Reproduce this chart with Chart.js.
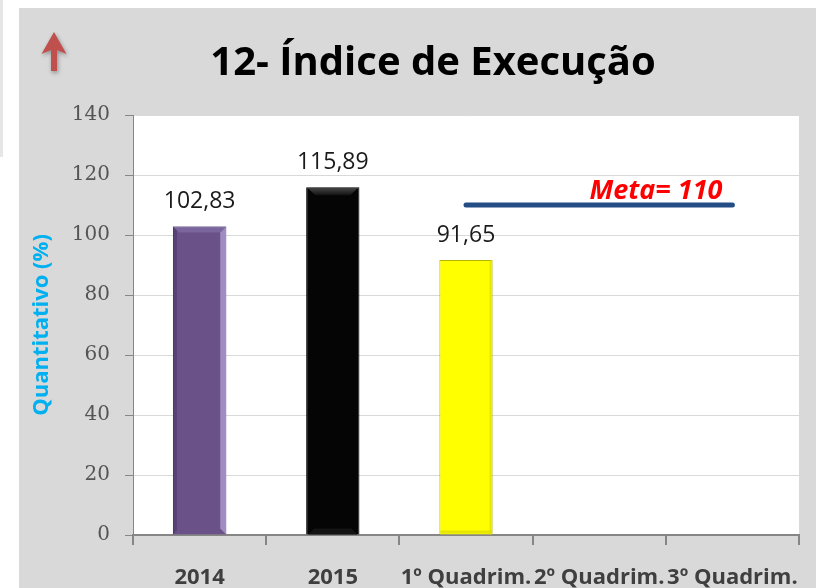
<!DOCTYPE html>
<html>
<head>
<meta charset="utf-8">
<script src="https://cdn.jsdelivr.net/npm/chart.js@4.4.0/dist/chart.umd.min.js"></script>
<style>
  html, body { margin: 0; padding: 0; background: #ffffff; }
  #wrap { width: 816px; height: 588px; position: relative; }
</style>
</head>
<body>
<div id="wrap"><canvas id="c" width="816" height="588"></canvas></div>
<script>
// ---- data ----
const chartTitle = '12- Índice de Execução';
const yAxisTitle = 'Quantitativo (%)';
const categories = ['2014', '2015', '1º Quadrim.', '2º Quadrim.', '3º Quadrim.'];
const values = [102.83, 115.89, 91.65, null, null];
const metaValues = [null, null, 110, 110, 110];
const metaLabel = 'Meta= 110';
const yTickValues = [0, 20, 40, 60, 80, 100, 120, 140];
const barColors = ['#6a5188', '#050505', '#ffff00', '#cccccc', '#cccccc'];
const barBorders = ['#4f3d68', '#000000', '#b5b500', '#999999', '#999999'];

function fmt(v) { return v.toFixed(2).replace('.', ','); }

const bgPlugin = {
  id: 'bg',
  beforeDraw(chart) {
    const ctx = chart.ctx, a = chart.chartArea;
    ctx.save();
    ctx.fillStyle = '#ffffff';
    ctx.fillRect(0, 0, chart.width, chart.height);
    ctx.fillStyle = '#e6e6e6';
    ctx.fillRect(0, 0, 3, 157);
    ctx.fillStyle = '#d9d9d9';
    ctx.fillRect(19, 8, chart.width - 19, chart.height - 8);
    ctx.fillStyle = '#ffffff';
    ctx.fillRect(a.left, a.top, a.right - a.left, a.bottom - a.top);
    ctx.restore();
  },
  afterDraw(chart) {
    const ctx = chart.ctx;
    // title
    ctx.save();
    let size = 38;
    ctx.font = 'bold ' + size + 'px "Open Sans"';
    const w = ctx.measureText(chartTitle).width;
    size = size * 445 / w;
    ctx.font = 'bold ' + size.toFixed(1) + 'px "Open Sans"';
    ctx.fillStyle = '#000000';
    ctx.textAlign = 'center';
    ctx.textBaseline = 'alphabetic';
    ctx.fillText(chartTitle, 433, 75);
    ctx.restore();
    // arrow
    ctx.save();
    ctx.shadowColor = 'rgba(0,0,0,0.35)';
    ctx.shadowBlur = 4;
    ctx.shadowOffsetX = 1;
    ctx.shadowOffsetY = 2;
    ctx.fillStyle = '#c0504d';
    ctx.beginPath();
    ctx.moveTo(54, 32);
    ctx.lineTo(66.5, 54);
    ctx.lineTo(57, 50);
    ctx.lineTo(57, 71);
    ctx.lineTo(51, 71);
    ctx.lineTo(51, 50);
    ctx.lineTo(41.5, 54);
    ctx.closePath();
    ctx.fill();
    ctx.restore();
  }
};

const barDecor = {
  id: 'barDecor',
  afterDatasetsDraw(chart) {
    const ctx = chart.ctx;
    const meta = chart.getDatasetMeta(0);
    meta.data.forEach((bar, i) => {
      if (values[i] == null) return;
      const p = bar.getProps(['x', 'y', 'base', 'width'], true);
      const l = p.x - p.width / 2, r = p.x + p.width / 2, t = p.y, b = p.base;
      ctx.save();
      if (i === 0) {
        ctx.fillStyle = 'rgba(170,150,205,0.85)';
        ctx.beginPath();
        ctx.moveTo(r, t); ctx.lineTo(r, b); ctx.lineTo(r - 6, b - 6); ctx.lineTo(r - 6, t + 6); ctx.closePath(); ctx.fill();
        ctx.fillStyle = 'rgba(130,110,165,0.7)';
        ctx.beginPath();
        ctx.moveTo(l, t); ctx.lineTo(r, t); ctx.lineTo(r - 6, t + 6); ctx.lineTo(l + 6, t + 6); ctx.closePath(); ctx.fill();
        ctx.fillStyle = 'rgba(70,50,95,0.5)';
        ctx.beginPath();
        ctx.moveTo(l, t); ctx.lineTo(l + 4, t + 4); ctx.lineTo(l + 4, b - 4); ctx.lineTo(l, b); ctx.closePath(); ctx.fill();
      } else if (i === 1) {
        const g = ctx.createLinearGradient(0, t, 0, t + 8);
        g.addColorStop(0, '#4a4a4a'); g.addColorStop(1, '#111111');
        ctx.fillStyle = g;
        ctx.beginPath();
        ctx.moveTo(l + 2, t + 1); ctx.lineTo(r - 2, t + 1); ctx.lineTo(r - 9, t + 8); ctx.lineTo(l + 9, t + 8); ctx.closePath(); ctx.fill();
        ctx.fillStyle = '#141414';
        ctx.beginPath();
        ctx.moveTo(l + 2, b); ctx.lineTo(r - 2, b); ctx.lineTo(r - 8, b - 6); ctx.lineTo(l + 8, b - 6); ctx.closePath(); ctx.fill();
      } else if (i === 2) {
        ctx.fillStyle = 'rgba(220,220,0,0.7)';
        ctx.fillRect(r - 3, t, 2, b - t);
        ctx.fillRect(l + 1, b - 4, r - l - 2, 3);
      }
      ctx.restore();
      // data label
      ctx.save();
      ctx.font = '23px "Open Sans"';
      ctx.fillStyle = '#1a1a1a';
      ctx.textAlign = 'center';
      ctx.textBaseline = 'middle';
      ctx.fillText(fmt(values[i]), p.x, t - 25);
      ctx.restore();
    });
    // meta label
    const xs = chart.scales.x, ys = chart.scales.y;
    ctx.save();
    ctx.font = 'italic bold 27px "Open Sans"';
    ctx.fillStyle = '#ff0000';
    ctx.textAlign = 'right';
    ctx.textBaseline = 'alphabetic';
    ctx.fillText(metaLabel, xs.getPixelForValue(4) - 10, ys.getPixelForValue(110) - 6);
    ctx.restore();
  }
};

new Chart(document.getElementById('c'), {
  data: {
    labels: categories,
    datasets: [
      {
        type: 'bar',
        data: values,
        backgroundColor: barColors,
        borderColor: barBorders,
        borderWidth: 1,
        barPercentage: 0.4,
        categoryPercentage: 1.0,
        order: 2
      },
      {
        type: 'line',
        data: metaValues,
        borderColor: '#234d84',
        borderWidth: 5,
        borderCapStyle: 'round',
        pointRadius: 0,
        fill: false,
        order: 1
      }
    ]
  },
  options: {
    responsive: false,
    animation: false,
    events: [],
    layout: { padding: { top: 115, right: 17, left: 0, bottom: 0 } },
    plugins: { legend: { display: false }, tooltip: { enabled: false }, title: { display: false } },
    scales: {
      x: {
        offset: true,
        afterFit(s) { s.height = 53; s.paddingLeft = 0; s.paddingRight = 0; },
        grid: { drawOnChartArea: false, offset: true, tickLength: 10, tickColor: '#868686', lineWidth: 2 },
        border: { color: '#868686', width: 2 },
        ticks: {
          autoSkip: false, maxRotation: 0, minRotation: 0, padding: 20,
          color: '#3f3f3f', font: { family: 'Open Sans', size: 22, weight: 'bold' }
        }
      },
      y: {
        min: 0, max: 140,
        afterFit(s) { s.width = 133; s.paddingTop = 0; s.paddingBottom = 0; },
        afterBuildTicks(s) { s.ticks = yTickValues.map(v => ({ value: v })); },
        grid: { color: '#d9d9d9', tickColor: '#868686', tickLength: 8, lineWidth: 1 },
        border: { color: '#868686', width: 1 },
        ticks: {
          padding: 15, color: '#555555',
          font: { family: 'DejaVu Serif', size: 20 }
        },
        title: {
          display: true, text: yAxisTitle, color: '#00b0f0',
          font: { family: 'Open Sans', size: 22, weight: 'bold' },
          padding: { top: 29, bottom: 0 }
        }
      }
    }
  },
  plugins: [bgPlugin, barDecor]
});
</script>
</body>
</html>
